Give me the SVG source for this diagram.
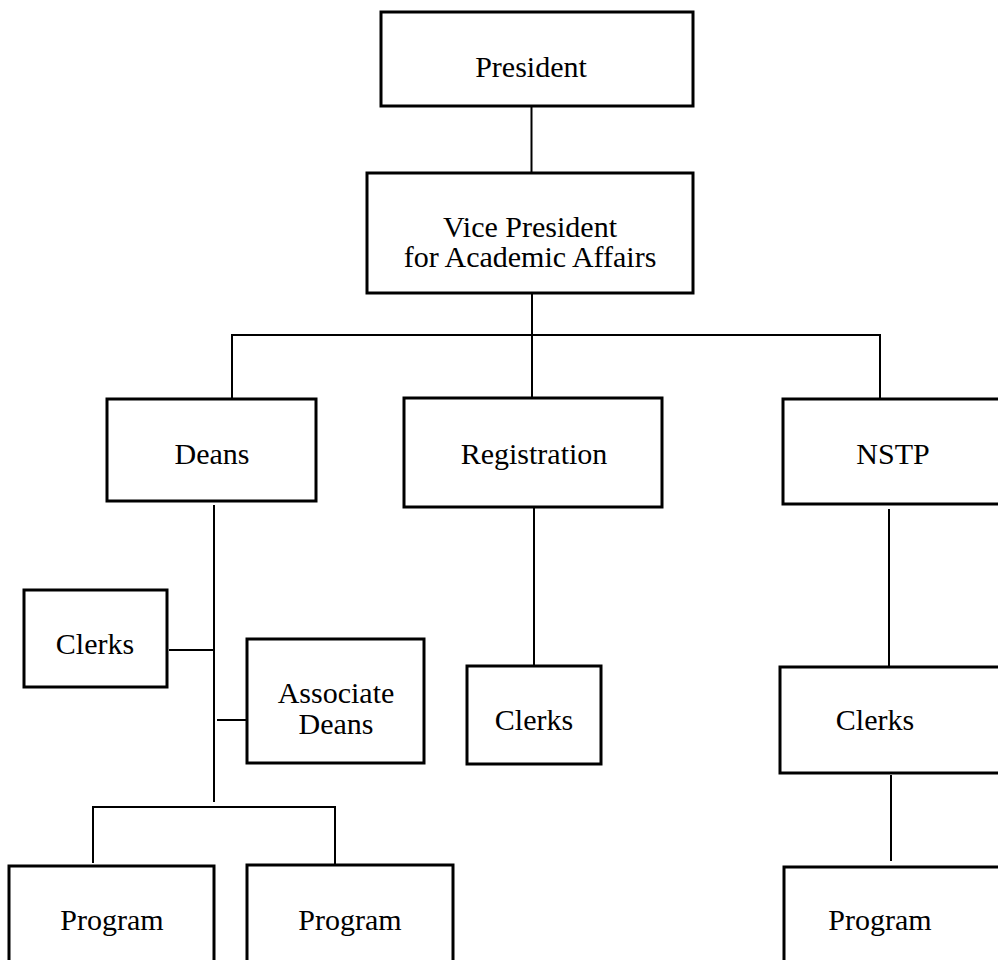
<svg xmlns="http://www.w3.org/2000/svg" width="998" height="960" viewBox="0 0 998 960">
  <style>
    .box rect { fill: #ffffff; stroke: #000000; stroke-width: 3; }
    .box text { font-family: "Liberation Serif", "Times New Roman", serif; font-size: 30px; fill: #000000; text-anchor: middle; }
    #connectors line { stroke: #000000; stroke-width: 2; }
  </style>
  <rect width="998" height="960" fill="#ffffff"/>

  <g id="connectors">
    <line x1="531.5" y1="106" x2="531.5" y2="173"/>
    <line x1="532" y1="293" x2="532" y2="398"/>
    <line x1="232" y1="335" x2="880" y2="335"/>
    <line x1="232" y1="334" x2="232" y2="399"/>
    <line x1="880" y1="334" x2="880" y2="399"/>
    <line x1="214" y1="505" x2="214" y2="802"/>
    <line x1="169" y1="650" x2="214" y2="650"/>
    <line x1="217" y1="720" x2="251" y2="720"/>
    <line x1="93" y1="807" x2="335" y2="807"/>
    <line x1="93" y1="806" x2="93" y2="863"/>
    <line x1="335" y1="806" x2="335" y2="865"/>
    <line x1="534" y1="507" x2="534" y2="666"/>
    <line x1="889" y1="509" x2="889" y2="666"/>
    <line x1="891" y1="775" x2="891" y2="861"/>
  </g>

  <g id="president" class="box">
    <rect x="381" y="12" width="312" height="94"/>
    <text x="531" y="77">President</text>
  </g>
  <g id="vice-president" class="box">
    <rect x="367" y="173" width="326" height="120"/>
    <text x="530" y="237">Vice President</text>
    <text x="530" y="267">for Academic Affairs</text>
  </g>
  <g id="deans" class="box">
    <rect x="107" y="399" width="209" height="102"/>
    <text x="212" y="464">Deans</text>
  </g>
  <g id="registration" class="box">
    <rect x="404" y="398" width="258" height="109"/>
    <text x="534" y="464">Registration</text>
  </g>
  <g id="nstp" class="box">
    <rect x="783" y="399" width="230" height="105"/>
    <text x="893" y="464">NSTP</text>
  </g>
  <g id="deans-clerks" class="box">
    <rect x="24" y="590" width="143" height="97"/>
    <text x="95" y="654">Clerks</text>
  </g>
  <g id="associate-deans" class="box">
    <rect x="247" y="639" width="177" height="124"/>
    <text x="336" y="703">Associate</text>
    <text x="336" y="734">Deans</text>
  </g>
  <g id="registration-clerks" class="box">
    <rect x="467" y="666" width="134" height="98"/>
    <text x="534" y="730">Clerks</text>
  </g>
  <g id="nstp-clerks" class="box">
    <rect x="780" y="667" width="240" height="106"/>
    <text x="875" y="730">Clerks</text>
  </g>
  <g id="program-1" class="box">
    <rect x="9" y="866" width="205" height="120"/>
    <text x="112" y="930">Program</text>
  </g>
  <g id="program-2" class="box">
    <rect x="247" y="865" width="206" height="120"/>
    <text x="350" y="930">Program</text>
  </g>
  <g id="nstp-program" class="box">
    <rect x="784" y="867" width="240" height="120"/>
    <text x="880" y="930">Program</text>
  </g>
</svg>
